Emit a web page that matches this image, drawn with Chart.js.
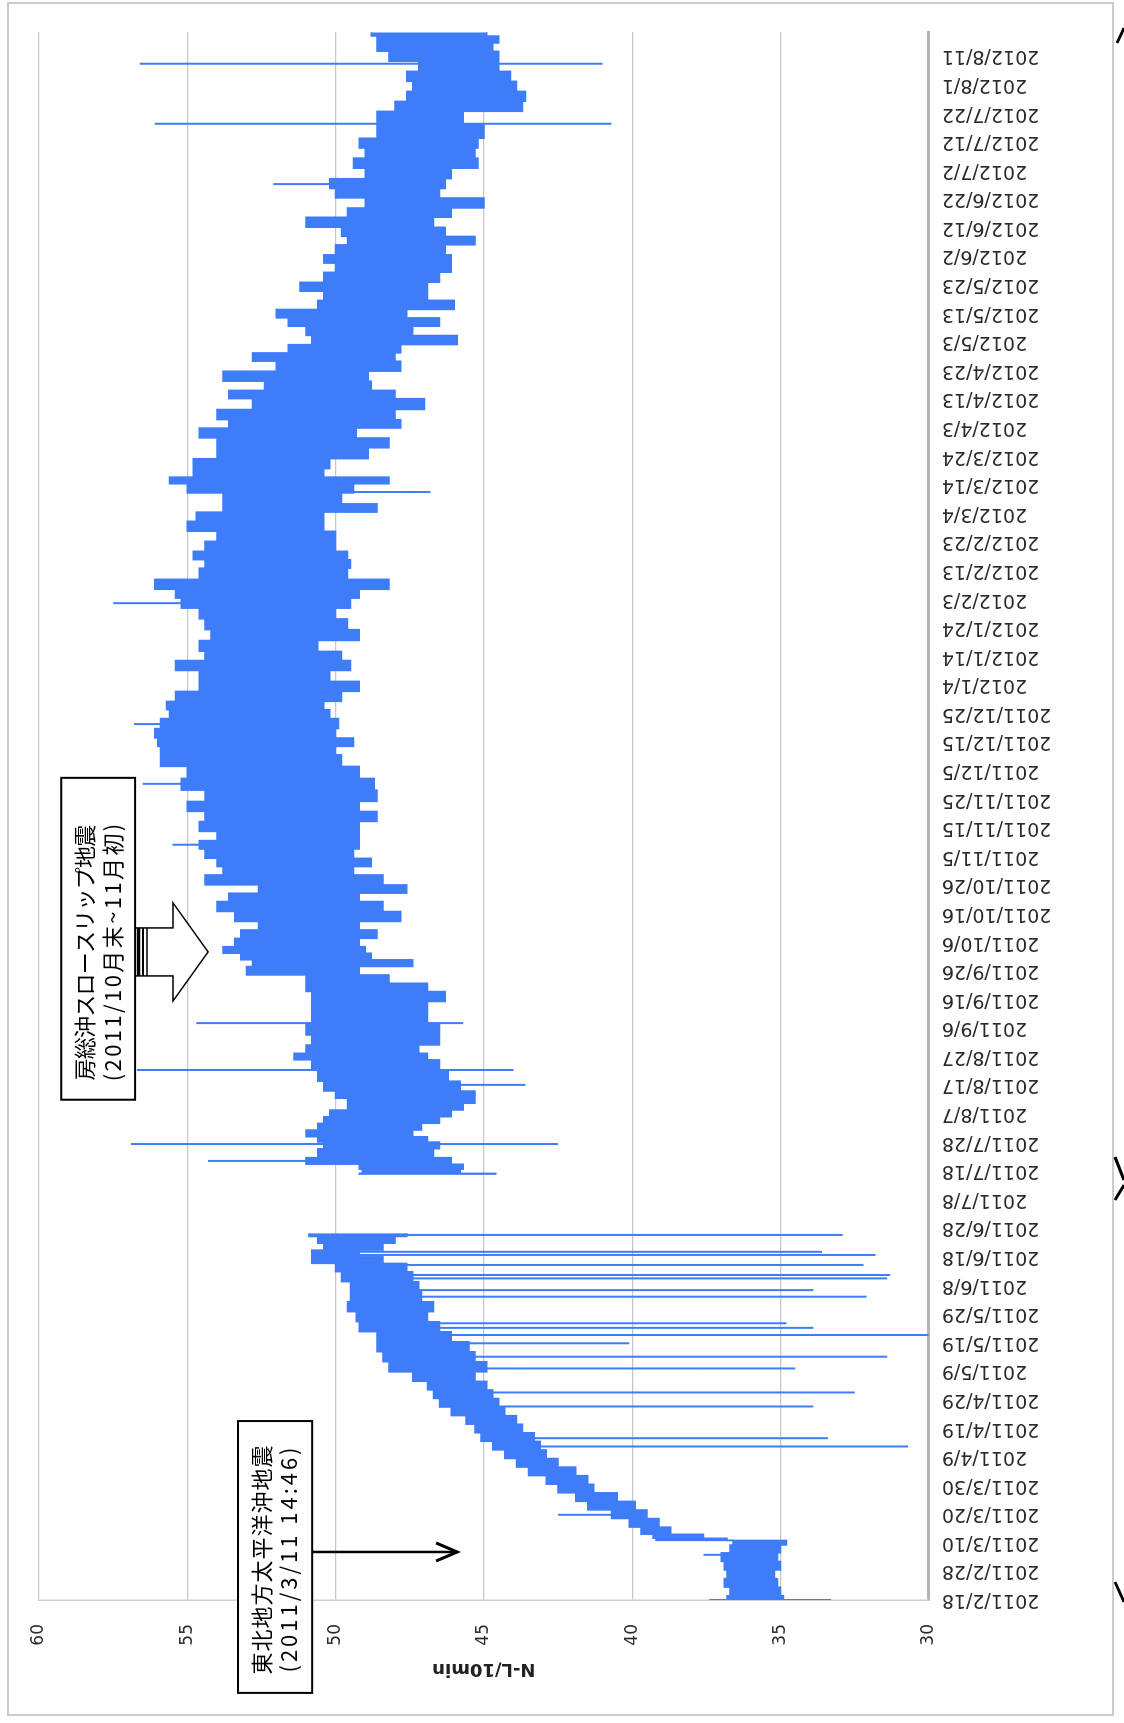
<!DOCTYPE html>
<html>
<head>
<meta charset="utf-8">
<script src="https://cdn.jsdelivr.net/npm/chart.js@4/dist/chart.umd.min.js"></script>
<style>
  html, body { margin: 0; padding: 0; background: #fff; overflow: hidden; }
  body { width: 1124px; height: 1723px; position: relative; }
  #wrap { position: absolute; left: 0; top: 0; width: 1723px; height: 1124px;
          transform-origin: 0 0; transform: translateY(1723px) rotate(-90deg); }
  canvas { display: block; }
</style>
</head>
<body>
<div id="wrap"><canvas id="c" width="1723" height="1124"></canvas></div>
<script>
// ---- tick labels (every 10 days from 2011/2/18) ----
const tickLabels = ["2011/2/18","2011/2/28","2011/3/10","2011/3/20","2011/3/30","2011/4/9","2011/4/19","2011/4/29",
"2011/5/9","2011/5/19","2011/5/29","2011/6/8","2011/6/18","2011/6/28","2011/7/8","2011/7/18","2011/7/28",
"2011/8/7","2011/8/17","2011/8/27","2011/9/6","2011/9/16","2011/9/26","2011/10/6","2011/10/16","2011/10/26",
"2011/11/5","2011/11/15","2011/11/25","2011/12/5","2011/12/15","2011/12/25","2012/1/4","2012/1/14","2012/1/24",
"2012/2/3","2012/2/13","2012/2/23","2012/3/4","2012/3/14","2012/3/24","2012/4/3","2012/4/13","2012/4/23",
"2012/5/3","2012/5/13","2012/5/23","2012/6/2","2012/6/12","2012/6/22","2012/7/2","2012/7/12","2012/7/22",
"2012/8/1","2012/8/11"];
const yTicks = [30, 35, 40, 45, 50, 55, 60];

// ---- segment 1 (before the data gap): day offset, upper and lower envelope of N-L/10min ----
const days1 = [0,3,6,9,12,15,18,20.5,21.2,22,24,27,30,33,36,39,42,45,48,51,54,57,60,63,66,69,72,75,78,
81.6,85.1,88.6,92.1,95.6,99.1,102.6,106.1,109.6,113.1,116.6,118.9,121.2,123.6,126,128.3];
const hi1 = [36.8,36.7,36.9,36.8,36.9,37.0,36.7,36.6,39.2,39.3,39.7,40.1,40.7,41.5,41.9,42.5,42.9,43.5,43.9,44.3,44.7,45.1,45.3,45.6,46.1,46.5,46.7,46.9,47.4,
48.2,48.4,48.6,48.6,49.2,49.3,49.6,49.5,49.5,49.8,50.0,50.8,50.8,50.4,50.6,50.9];
const lo1 = [34.9,35.0,35.1,35.2,35.0,35.1,35.0,34.8,36.8,37.6,38.7,39.1,39.5,39.9,40.5,41.3,41.5,41.9,42.5,42.9,43.1,43.3,43.7,43.9,44.3,44.5,44.7,44.9,45.3,
44.9,45.3,45.5,46.1,46.5,46.9,46.7,47.1,47.2,47.4,47.6,48.4,49.2,48.4,48.0,47.6];

// ---- segment 2 (after the data gap) ----
const days2 = [148.7,149.8,151.6,153.3,156.2,159.5,160.9,163.2,165.6,167.9,170.2,172.6,174.9,176.1,180,183,187.8,190.1,192.4,195.9,199.4,
204.1,207.6,211.1,214.6,216.9,220.4,222.8,225.1,227.4,229.7,233.2,235.6,239.1,242.6,246.1,248.4,251.9,255.4,257.7,261.2,264.2,267.1,
270.6,274.1,277.6,281.1,285.5,289.3,293.9,297.4,299.8,303.3,306.4,310.3,312.6,316.1,319.6,323.1,327.2,330.1,333.6,337.7,341.2,345.2,
348.7,352.2,354.9,359.2,362.7,365.1,368.6,372.1,375.6,379.1,382.0,384.9,389.6,391.3,394.3,397.2,401.3,404.8,408.2,411.7,414.1,418.8,
421.7,424.6,428.1,431.6,435.1,437.4,440.9,443.8,447.3,449.7,453.2,456.1,459.5,462.4,466.5,468.8,472.3,475.8,478.2,482.2,485.2,488.7,
492.2,495.3,499.1,502.6,506.2,509.6,513.1,519.0,522.5,526.0,529.5,533.0,536.5,540.0,543.5,545.8,548.4];
const hi2 = [49.2,49.1,49.2,51.0,50.6,50.4,50.6,51.0,50.6,50.4,50.2,49.6,49.6,50.0,50.4,50.6,50.8,51.4,51.0,50.8,51.0,
50.8,50.8,50.8,51.0,51.0,53.0,52.8,53.2,53.8,53.4,53.2,52.6,53.4,54.0,53.6,52.6,54.4,53.8,54.0,54.4,54.6,54.0,
54.6,54.4,55.0,54.4,55.2,55.0,55.9,55.9,56.0,56.1,55.9,55.6,55.7,55.4,54.6,54.6,55.4,54.4,54.6,54.2,54.4,54.6,
55.2,55.4,56.1,54.6,54.4,54.8,54.4,54.0,55.0,54.7,53.8,53.8,55.0,55.6,54.8,54.8,54.0,54.0,54.6,53.6,54.0,52.8,
53.6,52.4,53.8,52.0,52.8,51.6,50.8,51.0,51.6,52.0,50.6,50.4,51.2,50.4,50.0,50.4,50.0,49.6,49.8,51.0,49.6,49.0,
50.0,50.2,49.0,49.4,49.0,49.2,48.6,48.6,48.0,47.6,47.4,47.6,47.2,48.2,48.6,48.6,48.8];
const lo2 = [44.6,45.8,45.7,46.1,46.7,46.5,46.9,47.4,47.1,46.5,46.1,45.7,45.3,45.3,45.8,46.2,46.5,46.9,47.2,46.5,46.5,
46.9,46.9,46.3,46.9,48.2,49.2,47.4,48.8,49.0,49.2,48.6,49.2,47.8,48.4,49.2,47.6,48.4,49.4,48.8,49.4,49.2,49.2,
49.2,48.6,49.2,48.6,48.7,49.2,49.8,50.0,49.4,50.0,49.9,50.2,50.4,49.8,49.2,50.2,49.5,49.8,50.6,49.2,49.6,50.0,
49.5,49.2,48.2,49.6,49.5,49.6,50.0,50.0,50.4,50.4,48.6,49.8,49.4,48.2,50.4,50.2,48.9,48.2,49.3,47.8,48.0,47.0,
48.0,48.8,48.9,47.8,48.0,47.8,45.9,47.4,46.5,47.6,46.0,46.9,46.9,46.5,46.1,46.1,46.3,45.3,46.3,46.7,46.1,45.0,
46.5,46.3,46.1,45.2,45.3,45.2,45.0,45.7,43.7,43.6,43.9,44.1,44.5,44.5,44.7,44.5,44.9];

// ---- isolated 10-minute spikes: day, low end, high end ----
const spikeDays = [0,15.8,29.8,53.7,56.6,67.7,72.6,81.0,85.1,89.8,92.7,95.2,96.8,106.1,108.4,112.5,113.7,117.2,120.7,121.8,127.7,
153.6,159.5,180.2,185.4,201.8,264.2,285.5,306.4,348.7,387.6,495.3,516.4,537.4];
const spikeLo = [33.3,36.0,39.6,30.7,33.4,33.9,32.5,34.5,31.4,40.1,30.0,33.9,34.8,32.1,33.9,31.4,31.3,32.2,31.8,33.6,32.9,
49.0,42.5,43.6,44.0,45.7,51.0,51.0,52.0,52.0,46.8,48.0,40.7,41.0];
const spikeHi = [37.4,37.6,42.5,44.0,44.5,45.5,46.0,46.5,47.0,47.5,47.5,48.0,48.0,48.5,48.5,48.5,48.5,49.0,49.5,49.5,50.0,
54.3,56.9,47.0,56.7,54.7,55.5,56.5,56.8,57.5,54.0,52.1,56.1,56.6];

const BLUE = 'rgb(62,125,247)';
const pts = (d, v) => d.map((x, i) => ({x, y: v[i]}));
const spikePts = [];
spikeDays.forEach((d, i) => {
  spikePts.push({x: d, y: spikeLo[i]}, {x: d, y: spikeHi[i]}, {x: d, y: null});
});

function fitText(ctx, text, cx, cy, target) {
  if ('letterSpacing' in ctx) ctx.letterSpacing = '0px';
  const w = ctx.measureText(text).width;
  const n = [...text].length;
  const ls = (target - w) / n;
  if ('letterSpacing' in ctx) {
    ctx.letterSpacing = ls + 'px';
    ctx.fillText(text, cx + ls / 2, cy);
    ctx.letterSpacing = '0px';
  } else {
    ctx.fillText(text, cx, cy);
  }
}

const decor = {
  id: 'decor',
  beforeDraw(chart) {
    const ctx = chart.ctx;
    ctx.save();
    ctx.fillStyle = '#fff';
    ctx.fillRect(0, 0, chart.width, chart.height);
    ctx.strokeStyle = '#cbcbcb';
    ctx.lineWidth = 2;
    ctx.strokeRect(8, 8, 1712, 1105);
    ctx.restore();
  },
  afterDraw(chart) {
    const {ctx, scales: {x, y}} = chart;
    ctx.save();
    ctx.fillStyle = '#000';
    ctx.strokeStyle = '#000';
    ctx.textAlign = 'center';
    ctx.textBaseline = 'middle';
    ctx.font = '22px "Noto Sans CJK JP"';

    // Box 1: Tohoku earthquake
    let l = x.getPixelForValue(-32.5), r = x.getPixelForValue(62.6);
    let t = y.getPixelForValue(53.29), b = y.getPixelForValue(50.79);
    ctx.fillStyle = '#fff';
    ctx.fillRect(l, t, r - l, b - t);
    ctx.lineWidth = 2;
    ctx.strokeRect(l, t, r - l, b - t);
    ctx.fillStyle = '#000';
    fitText(ctx, '東北地方太平洋沖地震', (l + r) / 2 - 3, (t + b) / 2 - 13, 230);
    fitText(ctx, '(2011/3/11 14:46)', (l + r) / 2 - 3, (t + b) / 2 + 14, 228);
    // arrow 1
    const ax = x.getPixelForValue(16.8), ay = y.getPixelForValue(45.9);
    ctx.lineWidth = 2.5;
    ctx.beginPath();
    ctx.moveTo(ax, b); ctx.lineTo(ax, ay - 1);
    ctx.stroke();
    ctx.lineWidth = 3;
    ctx.beginPath();
    ctx.moveTo(ax - 9, ay - 21); ctx.lineTo(ax, ay); ctx.lineTo(ax + 9, ay - 21);
    ctx.stroke();

    // Box 2: Boso slow slip
    l = x.getPixelForValue(175.0); r = x.getPixelForValue(287.6);
    t = y.getPixelForValue(59.25); b = y.getPixelForValue(56.76);
    ctx.fillStyle = '#fff';
    ctx.fillRect(l, t, r - l, b - t);
    ctx.lineWidth = 2;
    ctx.strokeRect(l, t, r - l, b - t);
    ctx.fillStyle = '#000';
    fitText(ctx, '房総沖スロースリップ地震', x.getPixelForValue(226.5), (t + b) / 2 - 14, 255);
    fitText(ctx, '(2011/10月末~11月初)', x.getPixelForValue(226.5), (t + b) / 2 + 14, 260);
    // block arrow
    const cx = x.getPixelForValue(226.7);
    const hb = y.getPixelForValue(55.48), tip = y.getPixelForValue(54.30);
    ctx.beginPath();
    ctx.moveTo(cx - 24, b + 1);
    ctx.lineTo(cx - 24, hb);
    ctx.lineTo(cx - 49, hb);
    ctx.lineTo(cx, tip);
    ctx.lineTo(cx + 49, hb);
    ctx.lineTo(cx + 24, hb);
    ctx.lineTo(cx + 24, b + 1);
    ctx.fillStyle = '#fff';
    ctx.fill();
    ctx.lineWidth = 1.5;
    ctx.stroke();
    [[b + 3.5, 3.5], [b + 8, 2], [b + 12, 1.5]].forEach(([yy, w]) => {
      ctx.lineWidth = w;
      ctx.beginPath(); ctx.moveTo(cx - 24, yy); ctx.lineTo(cx + 24, yy); ctx.stroke();
    });

    // edge marks
    ctx.lineWidth = 3;
    ctx.beginPath();
    ctx.moveTo(1680, 1117); ctx.lineTo(1695, 1124);
    ctx.moveTo(566, 1115); ctx.lineTo(543, 1124);
    ctx.moveTo(538, 1124); ctx.lineTo(523, 1115);
    ctx.moveTo(141, 1115); ctx.lineTo(121, 1124);
    ctx.stroke();
    ctx.restore();
  }
};

const env = {borderColor: BLUE, backgroundColor: BLUE, borderWidth: 1.5, pointRadius: 0, stepped: 'middle'};

new Chart(document.getElementById('c'), {
  type: 'line',
  data: {
    datasets: [
      Object.assign({data: pts(days1, hi1), fill: '+1'}, env),
      Object.assign({data: pts(days1, lo1), fill: false}, env),
      Object.assign({data: pts(days2, hi2), fill: '+1'}, env),
      Object.assign({data: pts(days2, lo2), fill: false}, env),
      {data: spikePts, borderColor: BLUE, borderWidth: 2, fill: false, pointRadius: 0, spanGaps: false}
    ]
  },
  options: {
    responsive: false,
    animation: false,
    devicePixelRatio: 1,
    layout: {padding: {left: 0, right: 32, top: 39, bottom: 0}},
    plugins: {legend: {display: false}, tooltip: {enabled: false}},
    scales: {
      x: {
        type: 'linear', min: 0, max: 548.5,
        afterBuildTicks: (s) => { s.ticks = tickLabels.map((_, i) => ({value: i * 10})); },
        afterFit: (s) => { s.height = 195.2; },
        grid: {display: false, drawTicks: false},
        border: {display: true, color: '#b3b3b3', width: 3},
        ticks: {
          autoSkip: false, minRotation: 90, maxRotation: 90, padding: 13,
          color: '#2a2a2a', font: {family: 'DejaVu Sans', size: 19},
          callback: (v) => tickLabels[Math.round(v / 10)]
        }
      },
      y: {
        type: 'linear', min: 30, max: 60,
        afterBuildTicks: (s) => { s.ticks = yTicks.map(v => ({value: v})); },
        afterFit: (s) => { s.width = 123; },
        grid: {color: '#c6c6c6', lineWidth: 1.3, drawTicks: false},
        border: {display: true, color: '#cfcfcf', width: 1.5},
        ticks: {padding: 24, color: '#2a2a2a', font: {family: 'DejaVu Sans', size: 17}},
        title: {display: true, text: 'N-L/10min', color: '#222',
                font: {family: 'DejaVu Sans', size: 18, weight: 'bold'}, padding: {top: 44, bottom: 0}}
      }
    }
  },
  plugins: [decor]
});
</script>
</body>
</html>
